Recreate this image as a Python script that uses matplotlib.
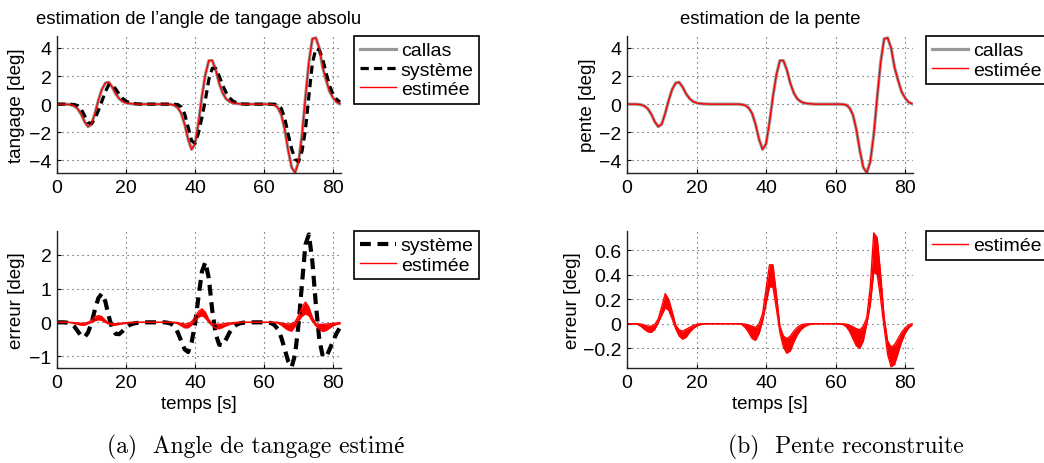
import numpy as np
import matplotlib
matplotlib.use('Agg')
import matplotlib.pyplot as plt

plt.rcParams['font.family'] = ['Liberation Sans', 'DejaVu Sans']

# time samples (s)
temps = np.arange(0, 83)

# reference angle (callas), same for tangage and pente
callas = [0, 0, 0, -0.01, -0.04, -0.13, -0.33, -0.72, -1.25, -1.6,
          -1.42, -0.65, 0.28, 1.05, 1.5, 1.56, 1.22, 0.74, 0.4, 0.19,
          0.09, 0.04, 0.02, 0.01, 0, 0, 0, 0, 0, 0,
          0, 0, 0, -0.02, -0.08, -0.26, -0.66, -1.44, -2.5, -3.22,
          -2.84, -1.3, 0.56, 2.1, 3.1, 3.1, 2.44, 1.48, 0.8, 0.38,
          0.18, 0.08, 0.04, 0.02, 0, 0, 0, 0, 0, 0,
          0, 0, -0.01, -0.05, -0.25, -0.75, -1.8, -3.3, -4.5, -4.88,
          -4.1, -2.2, 0.5, 3.0, 4.65, 4.72, 4.0, 2.6, 1.7, 0.9,
          0.45, 0.15, 0.03]
estimee = list(callas)

systeme = [0, 0, 0, 0, -0.01, -0.03, -0.1, -0.35, -0.82, -1.3,
           -1.4, -1.03, -0.45, 0.2, 0.88, 1.38, 1.4, 1.08, 0.72, 0.42,
           0.22, 0.11, 0.05, 0.02, 0.01, 0, 0, 0, 0, 0,
           0, 0, 0, 0, -0.01, -0.03, -0.2, -0.7, -1.62, -2.6,
           -2.79, -2.05, -0.94, 0.3, 1.75, 2.55, 2.55, 2.0, 1.35, 0.82,
           0.45, 0.22, 0.1, 0.04, 0.01, 0, 0, 0, 0, 0,
           0, 0, 0, 0, -0.05, -0.3, -1.0, -2.15, -3.18, -3.93,
           -4.1, -3.35, -1.8, 0.6, 2.9, 3.95, 3.85, 3.2, 2.2, 1.3,
           0.7, 0.35, 0.15]

# tangage errors
err_systeme = [0, 0, 0, -0.01, -0.04, -0.12, -0.26, -0.4, -0.44, -0.3,
               -0.02, 0.38, 0.72, 0.85, 0.62, 0.18, -0.18, -0.34, -0.35, -0.26,
               -0.15, -0.08, -0.04, -0.02, -0.01, 0, 0, 0, 0, 0,
               0, 0, -0.01, -0.04, -0.12, -0.3, -0.55, -0.8, -0.88, -0.6,
               -0.05, 0.75, 1.5, 1.78, 1.3, 0.35, -0.35, -0.66, -0.68, -0.5,
               -0.3, -0.15, -0.07, -0.03, -0.01, 0, 0, 0, 0, 0,
               0, 0, -0.02, -0.08, -0.2, -0.45, -0.8, -1.15, -1.32, -0.95,
               -0.05, 1.15, 2.3, 2.6, 1.8, 0.55, -0.5, -1.0, -1.02, -0.8,
               -0.55, -0.33, -0.15]

err_tangage_haut = [0, 0, 0, 0, 0, -0.01, -0.02, -0.03, -0.02, 0.0,
                    0.06, 0.16, 0.2, 0.17, 0.06, -0.02, -0.04, -0.04, -0.03, -0.02,
                    -0.01, 0, 0, 0, 0, 0, 0, 0, 0, 0,
                    0, 0, 0, 0, 0, -0.01, -0.03, -0.05, -0.04, 0.02,
                    0.15, 0.32, 0.4, 0.3, 0.08, -0.05, -0.06, -0.06, -0.05, -0.03,
                    -0.02, -0.01, 0, 0, 0, 0, 0, 0, 0, 0,
                    0, 0, 0, 0, 0, -0.02, -0.04, -0.05, -0.04, 0.02,
                    0.2, 0.45, 0.6, 0.45, 0.15, -0.04, -0.06, -0.06, -0.05, -0.04,
                    -0.03, -0.02, -0.01]
err_tangage_bas = [0, 0, 0, 0, -0.01, -0.03, -0.06, -0.08, -0.08, -0.04,
                   0.0, 0.05, 0.08, 0.06, 0.0, -0.05, -0.08, -0.08, -0.06, -0.04,
                   -0.03, -0.02, -0.01, 0, 0, 0, 0, 0, 0, 0,
                   0, 0, 0, 0, -0.01, -0.04, -0.1, -0.16, -0.16, -0.08,
                   0.05, 0.15, 0.2, 0.13, 0.0, -0.1, -0.17, -0.19, -0.15, -0.1,
                   -0.06, -0.04, -0.02, -0.01, 0, 0, 0, 0, 0, 0,
                   0, 0, 0, 0, -0.02, -0.08, -0.16, -0.23, -0.26, -0.12,
                   0.05, 0.18, 0.25, 0.2, 0.03, -0.1, -0.2, -0.27, -0.24, -0.17,
                   -0.1, -0.06, -0.04]

# pente errors
err_pente_haut = [0, 0, 0, 0, -0.002, -0.01, -0.02, -0.02, -0.005, 0.04,
                  0.14, 0.245, 0.2, 0.1, -0.01, -0.05, -0.06, -0.045, -0.03, -0.015,
                  -0.005, 0, 0, 0, 0, 0, 0, 0, 0, 0,
                  0, 0, 0, 0, -0.003, -0.01, -0.02, -0.03, 0, 0.08,
                  0.28, 0.48, 0.48, 0.24, -0.02, -0.1, -0.12, -0.1, -0.06, -0.03,
                  -0.01, -0.003, 0, 0, 0, 0, 0, 0, 0, 0,
                  0, 0, 0, -0.003, -0.01, -0.025, -0.04, -0.05, -0.02, 0.05,
                  0.3, 0.74, 0.7, 0.4, 0.05, -0.14, -0.19, -0.17, -0.12, -0.07,
                  -0.035, -0.01, 0]
err_pente_bas = [0, 0, 0, -0.005, -0.02, -0.045, -0.065, -0.07, -0.045, 0.01,
                 0.07, 0.13, 0.11, 0.04, -0.04, -0.1, -0.125, -0.11, -0.07, -0.04,
                 -0.02, -0.008, -0.003, 0, 0, 0, 0, 0, 0, 0,
                 0, 0, 0, -0.005, -0.03, -0.07, -0.12, -0.135, -0.08, 0.02,
                 0.16, 0.3, 0.3, 0.12, -0.07, -0.19, -0.24, -0.22, -0.15, -0.09,
                 -0.05, -0.025, -0.01, -0.003, 0, 0, 0, 0, 0, 0,
                 0, 0, -0.005, -0.02, -0.06, -0.12, -0.18, -0.2, -0.14, 0,
                 0.15, 0.42, 0.4, 0.2, -0.03, -0.25, -0.35, -0.33, -0.24, -0.15,
                 -0.08, -0.035, -0.01]

GRAY = '#999999'
FS = 13.5
FS_LEG = 14
dash = (0, (2.6, 1.6))

fig = plt.figure(figsize=(10.44, 4.64), dpi=100)
W, H = 1044, 464


def make_ax(x0, x1, y0, y1):
    ax = fig.add_axes([x0 / W, 1 - y1 / H, (x1 - x0) / W, (y1 - y0) / H])
    for s in ['top', 'right']:
        ax.spines[s].set_visible(False)
    for s in ['left', 'bottom']:
        ax.spines[s].set_color('#222222')
        ax.spines[s].set_linewidth(1.0)
    ax.tick_params(direction='in', length=3, width=0.8, labelsize=14, pad=4)
    ax.grid(True, color='#444444', linestyle=(0, (1, 3.5)), linewidth=0.8)
    ax.set_xlim(0, 82.3)
    ax.set_xticks([0, 20, 40, 60, 80])
    return ax


def make_legend(ax, x, y):
    leg = ax.legend(loc='upper left', bbox_to_anchor=(x / W, 1 - y / H),
                    bbox_transform=fig.transFigure, fontsize=FS_LEG, frameon=True,
                    fancybox=False, edgecolor='black', framealpha=1,
                    borderaxespad=0, borderpad=0.3, handlelength=1.85,
                    handletextpad=0.25, labelspacing=0.08)
    leg.get_frame().set_linewidth(1.2)
    return leg


# top left: tangage
ax1 = make_ax(57, 341, 37, 174)
ax1.plot(temps, callas, color=GRAY, lw=2.3, label='callas')
ax1.plot(temps, systeme, color='black', lw=2.3, linestyle=dash, label='système')
ax1.plot(temps, estimee, color='red', lw=1.0, label='estimée')
ax1.set_ylim(-4.9, 4.85)
ax1.set_yticks([-4, -2, 0, 2, 4])
ax1.set_ylabel('tangage [deg]', fontsize=FS)
ax1.yaxis.set_label_coords(-0.113, 0.5)
ax1.set_title("estimation de l’angle de tangage absolu", fontsize=13.3, pad=9)
make_legend(ax1, 354, 37)

# bottom left: tangage error
ax2 = make_ax(57, 341, 232, 369)
ax2.plot(temps, err_systeme, color='black', lw=3.0, linestyle=dash, label='système')
ax2.fill_between(temps, err_tangage_bas, err_tangage_haut, color='red', lw=0)
ax2.plot(temps, err_tangage_haut, color='red', lw=1.0, label='estimée')
ax2.plot(temps, err_tangage_bas, color='red', lw=1.0)
ax2.set_ylim(-1.35, 2.7)
ax2.set_yticks([-1, 0, 1, 2])
ax2.set_ylabel('erreur [deg]', fontsize=FS)
ax2.yaxis.set_label_coords(-0.113, 0.5)
ax2.set_xlabel('temps [s]', fontsize=FS)
ax2.xaxis.set_label_coords(0.5, -0.2)
make_legend(ax2, 354, 232)

# top right: pente
ax3 = make_ax(627, 913, 37, 174)
ax3.plot(temps, callas, color=GRAY, lw=2.3, label='callas')
ax3.plot(temps, estimee, color='red', lw=1.0, label='estimée')
ax3.set_ylim(-4.9, 4.85)
ax3.set_yticks([-4, -2, 0, 2, 4])
ax3.set_ylabel('pente [deg]', fontsize=FS)
ax3.yaxis.set_label_coords(-0.108, 0.5)
ax3.set_title('estimation de la pente', fontsize=13.3, pad=9)
make_legend(ax3, 926, 37)

# bottom right: pente error
ax4 = make_ax(627, 913, 232, 369)
ax4.fill_between(temps, err_pente_bas, err_pente_haut, color='red', lw=0)
ax4.plot(temps, err_pente_haut, color='red', lw=1.0, label='estimée')
ax4.plot(temps, err_pente_bas, color='red', lw=1.0)
ax4.set_ylim(-0.36, 0.755)
ax4.set_yticks([-0.2, 0, 0.2, 0.4, 0.6])
ax4.set_yticklabels(['−0.2', '0', '0.2', '0.4', '0.6'])
ax4.set_ylabel('erreur [deg]', fontsize=FS)
ax4.yaxis.set_label_coords(-0.161, 0.5)
ax4.set_xlabel('temps [s]', fontsize=FS)
ax4.xaxis.set_label_coords(0.5, -0.2)
make_legend(ax4, 926, 232)

# sub captions
cap_font = ['cmr10', 'Liberation Serif']
fig.text(256 / W, 1 - 447 / H, '(a)  Angle de tangage estimé',
         ha='center', va='center', fontsize=17, family=cap_font)
fig.text(846 / W, 1 - 447 / H, '(b)  Pente reconstruite',
         ha='center', va='center', fontsize=17, family=cap_font)

fig.savefig('out.png', dpi=100)
